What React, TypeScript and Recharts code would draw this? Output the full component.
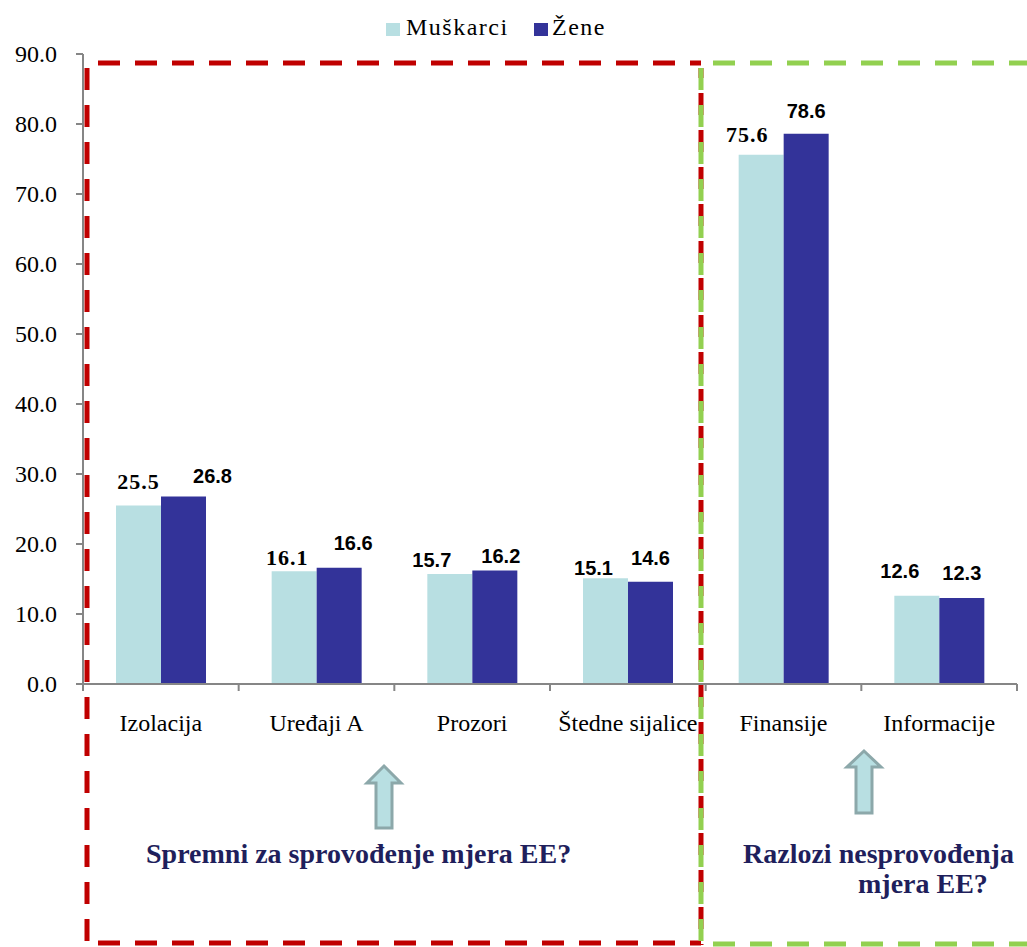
import React from 'react';
import { BarChart, Bar, XAxis, YAxis, LabelList, Legend } from 'recharts';

const categories = ['Izolacija', 'Uređaji A', 'Prozori', 'Štedne sijalice', 'Finansije', 'Informacije'];
const muskarci = [25.5, 16.1, 15.7, 15.1, 75.6, 12.6];
const zene = [26.8, 16.6, 16.2, 14.6, 78.6, 12.3];
const yTicks = [0, 10, 20, 30, 40, 50, 60, 70, 80, 90];

// hand-placed label nudges copied from the original (x shift, gap above bar)
const mShift = [0, -7, -18, -12, -14, -17];
const mGap = [17, 6, 7, 3, 13, 18];
const zShift = [29, 14, 6, 0, 0, 0];
const zGap = [13, 18, 8, 17, 16, 18];
const mFont = ['serifBold', 'serifBold', 'sansBold', 'sansBold', 'serifBold', 'sansBold'];

const data = categories.map((name, i) => ({ name, muskarci: muskarci[i], zene: zene[i] }));

const LIGHT = '#b8dfe2';
const DARK = '#333399';
const AXIS = '#868686';
const SERIF = '"Liberation Serif", "Times New Roman", serif';
const SANS = '"Liberation Sans", Arial, sans-serif';
const NAVY = '#1f1f5c';

const fontStyle = (kind: string): React.CSSProperties => {
  if (kind === 'serifBold') return { fontFamily: SERIF, fontWeight: 700, fontSize: 22, letterSpacing: 1 };
  return { fontFamily: SANS, fontWeight: 700, fontSize: 20 };
};

const makeLabel = (shift: number[], gap: number[], fonts: string[] | null) => (props: any) => {
  const { x, y, width, value, index } = props;
  const kind = fonts ? fonts[index] : 'sansBold';
  return (
    <text
      x={Number(x) + Number(width) / 2 + shift[index]}
      y={Number(y) - gap[index]}
      textAnchor="middle"
      fill="#000"
      style={fontStyle(kind)}
    >
      {Number(value).toFixed(1)}
    </text>
  );
};

const YTick = (props: any) => {
  const { x, y, payload } = props;
  return (
    <text x={x} y={y} dy={8} textAnchor="end" fill="#000" style={{ fontFamily: SERIF, fontSize: 24 }}>
      {Number(payload.value).toFixed(1)}
    </text>
  );
};

// category label centred, tick marks on the band edges
const XTick = (props: any) => {
  const { x, y, payload, index } = props;
  const half = payload && payload.offset ? payload.offset : (1027 - 83 - 10) / categories.length / 2;
  const axisY = y - 30;
  return (
    <g>
      <line x1={x - half} y1={axisY} x2={x - half} y2={axisY + 7} stroke={AXIS} strokeWidth={2} />
      {index === categories.length - 1 && (
        <line x1={x + half} y1={axisY} x2={x + half} y2={axisY + 7} stroke={AXIS} strokeWidth={2} />
      )}
      <text x={x} y={y} dy={17} textAnchor="middle" fill="#000" style={{ fontFamily: SERIF, fontSize: 24 }}>
        {payload.value}
      </text>
    </g>
  );
};

const LegendBox = () => (
  <div style={{ position: 'relative', height: 30, fontFamily: SERIF, fontSize: 24, letterSpacing: 1.5, color: '#000' }}>
    <span style={{ position: 'absolute', left: 386, top: 12, width: 14, height: 13, background: LIGHT }} />
    <span style={{ position: 'absolute', left: 406, top: 0, lineHeight: '32px' }}>Muškarci</span>
    <span style={{ position: 'absolute', left: 534, top: 12, width: 14, height: 13, background: DARK }} />
    <span style={{ position: 'absolute', left: 552, top: 0, lineHeight: '32px' }}>Žene</span>
  </div>
);

const Arrow = ({ cx, top, headY, bottom }: { cx: number; top: number; headY: number; bottom: number }) => (
  <polygon
    points={`${cx},${top} ${cx + 17},${headY} ${cx + 8},${headY} ${cx + 8},${bottom} ${cx - 8},${bottom} ${cx - 8},${headY} ${cx - 17},${headY}`}
    fill={LIGHT}
    stroke="#8ca8aa"
    strokeWidth={3}
  />
);

const Overlay = () => (
  <svg width={1027} height={947} style={{ position: 'absolute', left: 0, top: 0, pointerEvents: 'none' }}>
    <g stroke="#c00000" strokeWidth={5} strokeDasharray="22 15" fill="none">
      <line x1={87} y1={63} x2={701} y2={63} strokeDashoffset={-11} />
      <line x1={87} y1={68} x2={87} y2={945} />
      <line x1={87} y1={943} x2={701} y2={943} strokeDashoffset={-11} />
      <line x1={701} y1={68} x2={701} y2={945} strokeDashoffset={-25} />
    </g>
    <g stroke="#92d050" strokeWidth={5} strokeDasharray="22 15" fill="none">
      <line x1={701} y1={63} x2={1040} y2={63} strokeDashoffset={-12} />
      <line x1={701} y1={68} x2={701} y2={945} />
      <line x1={701} y1={944} x2={1040} y2={944} strokeDashoffset={-12} />
    </g>
    <Arrow cx={384} top={766} headY={783} bottom={828} />
    <Arrow cx={864} top={751} headY={767} bottom={813} />
    <g fill={NAVY} style={{ fontFamily: SERIF, fontWeight: 700, fontSize: 28 }}>
      <text x={146} y={863}>Spremni za sprovođenje mjera EE?</text>
      <text x={743} y={863}>Razlozi nesprovođenja</text>
      <text x={858} y={893}>mjera EE?</text>
    </g>
  </svg>
);

export default function App() {
  return (
    <div style={{ position: 'absolute', left: 0, top: 0, width: 1027, height: 947, background: '#fff' }}>
      <BarChart
        width={1027}
        height={947}
        data={data}
        margin={{ top: 24, right: 10, left: 0, bottom: 203 }}
        barGap={0}
      >
        <Legend
          verticalAlign="top"
          align="left"
          content={<LegendBox />}
          wrapperStyle={{ top: 11, left: 0, width: 1027, height: 30 }}
        />
        <XAxis
          dataKey="name"
          height={60}
          axisLine={{ stroke: AXIS, strokeWidth: 2 }}
          tickLine={false}
          tickSize={0}
          tickMargin={30}
          interval={0}
          tick={<XTick />}
        />
        <YAxis
          width={83}
          domain={[0, 90]}
          ticks={yTicks}
          axisLine={{ stroke: AXIS, strokeWidth: 2 }}
          tickLine={{ stroke: AXIS, strokeWidth: 2 }}
          tickSize={7}
          tickMargin={19}
          tick={<YTick />}
        />
        <Bar dataKey="muskarci" name="Muškarci" fill={LIGHT} barSize={45} isAnimationActive={false}>
          <LabelList dataKey="muskarci" content={makeLabel(mShift, mGap, mFont)} />
        </Bar>
        <Bar dataKey="zene" name="Žene" fill={DARK} barSize={45} isAnimationActive={false}>
          <LabelList dataKey="zene" content={makeLabel(zShift, zGap, null)} />
        </Bar>
      </BarChart>
      <Overlay />
    </div>
  );
}
